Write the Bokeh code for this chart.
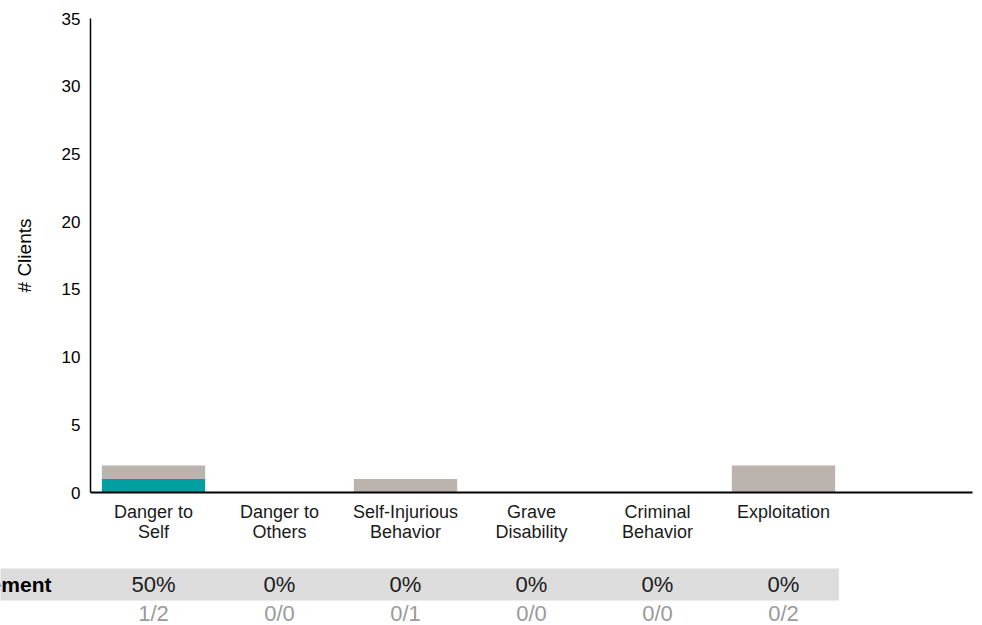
from bokeh.plotting import figure
from bokeh.models import Range1d, FixedTicker, ColumnDataSource, LinearAxis
from bokeh.core.properties import value
from bokeh.embed import file_html
from bokeh.resources import INLINE

FONT = "Liberation Sans"

# ---- data ----
categories = ["Danger to Self", "Danger to Others", "Self-Injurious Behavior",
              "Grave Disability", "Criminal Behavior", "Exploitation"]
tick_labels = ["Danger to\nSelf", "Danger to\nOthers", "Self-Injurious\nBehavior",
               "Grave\nDisability", "Criminal\nBehavior", "Exploitation"]
met = [1, 0, 0, 0, 0, 0]
total = [2, 0, 1, 0, 0, 2]
y_ticks = [0, 5, 10, 15, 20, 25, 30, 35]
row_title = "Improvement"
y_label = "# Clients"

n = len(categories)
not_met = [t - m for t, m in zip(total, met)]
pct = [f"{round(100 * m / t) if t else 0}%" for m, t in zip(met, total)]
frac = [f"{m}/{t}" for m, t in zip(met, total)]

TEAL = "#00A0A2"
GREY = "#BBB3AE"

# ---- layout (pixel geometry of the page) ----
W, H = 982, 625
AX_LEFT_PX = 90      # page x of the y axis
AX_RIGHT_PX = 972    # page x where the x axis ends
AX_TOP_PX = 18       # page y of the top tick
AX_ZERO_PX = 492     # page y of the x axis
SLOTS = n + 1
slot_px = (AX_RIGHT_PX - AX_LEFT_PX) / SLOTS
unit_px = (AX_ZERO_PX - AX_TOP_PX) / y_ticks[-1]


def fx(px):
    return -0.5 + (px - AX_LEFT_PX) / slot_px


def fy(py):
    return (AX_ZERO_PX - py) / unit_px


p = figure(width=W, height=H, min_border=0,
           x_range=Range1d(fx(0), fx(W)), y_range=Range1d(fy(H), fy(0)),
           x_axis_location=None, y_axis_location=None,
           output_backend="svg", toolbar_location=None)
p.outline_line_color = None
p.xgrid.grid_line_color = None
p.ygrid.grid_line_color = None

src = ColumnDataSource(dict(x=list(range(n)), met=met, not_met=not_met))
p.vbar_stack(["met", "not_met"], x="x", width=0.82, color=[TEAL, GREY],
             line_width=0, source=src)

xa = LinearAxis(fixed_location=0, bounds=(-0.5, SLOTS - 0.5),
                ticker=FixedTicker(ticks=list(range(n))))
xa.major_label_overrides = {i: lab for i, lab in enumerate(tick_labels)}
xa.major_tick_line_color = None
xa.minor_tick_line_color = None
xa.major_tick_out = 0
xa.major_tick_in = 0
xa.axis_line_width = 2
xa.axis_line_color = "#000000"
xa.major_label_text_font = FONT
xa.major_label_text_font_size = "18px"
xa.major_label_text_line_height = 1.0
xa.major_label_text_color = "#1a1a1a"
xa.major_label_standoff = 9
p.add_layout(xa, "below")

ya = LinearAxis(fixed_location=-0.5, bounds=(0, y_ticks[-1]),
                ticker=FixedTicker(ticks=y_ticks))
ya.major_tick_line_color = None
ya.minor_tick_line_color = None
ya.major_tick_out = 0
ya.major_tick_in = 0
ya.axis_line_width = 1.5
ya.axis_line_color = "#000000"
ya.major_label_text_font = FONT
ya.major_label_text_font_size = "17px"
ya.major_label_text_color = "#000000"
ya.major_label_standoff = 10
ya.axis_label = y_label
ya.axis_label_text_font = FONT
ya.axis_label_text_font_size = "19px"
ya.axis_label_text_font_style = "normal"
ya.axis_label_text_color = "#000000"
ya.axis_label_standoff = 24
p.add_layout(ya, "left")

# ---- table below the chart ----
p.quad(left=[fx(0) - 1], right=[n - 1 + 0.44], top=[fy(568)], bottom=[fy(600)],
       fill_color="#DCDCDC", line_color=None, level="underlay")
p.text(x=list(range(n)), y=[fy(584)] * n, text=pct, text_align="center",
       text_baseline="middle", text_font=value(FONT), text_font_size="22px",
       text_color="#1a1a1a")
p.text(x=list(range(n)), y=[fy(613)] * n, text=frac, text_align="center",
       text_baseline="middle", text_font=value(FONT), text_font_size="22px",
       text_color="#9a9a9a")
p.text(x=[fx(51)], y=[fy(584)], text=[row_title], text_align="right",
       text_baseline="middle", text_font=value(FONT), text_font_size="21px",
       text_font_style="bold", text_color="#000000")

open("out.html", "w").write(file_html(p, INLINE))
